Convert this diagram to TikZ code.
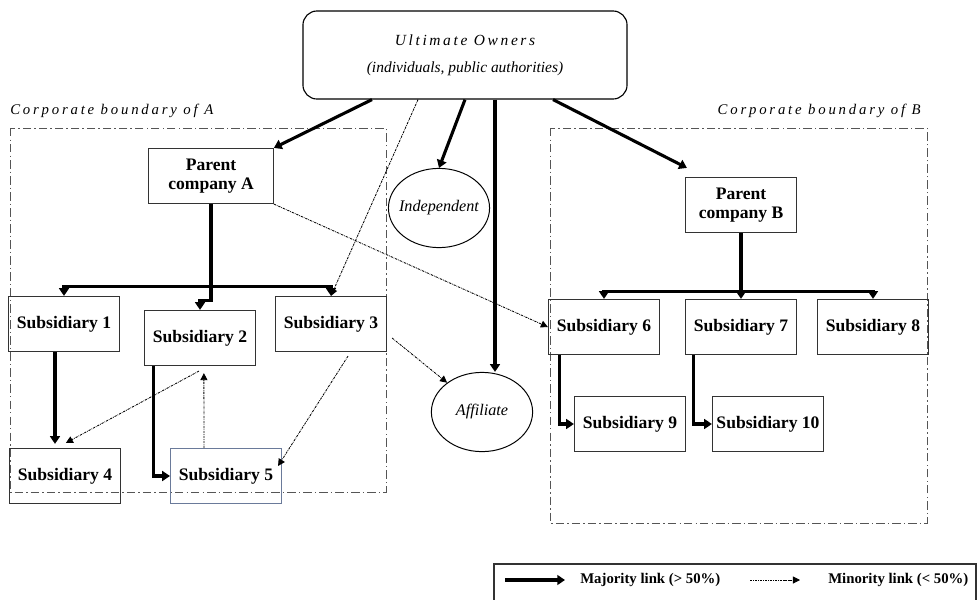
\documentclass[tikz,border=0pt]{standalone}
\usepackage{fontspec}
\setmainfont{Liberation Serif}
\usetikzlibrary{arrows.meta,calc,shapes.geometric}
\definecolor{boxline}{HTML}{333333}
\definecolor{blueline}{HTML}{6A7A9A}
\definecolor{boundline}{HTML}{555555}
\begin{document}
\begin{tikzpicture}
[x=0.025cm,y=-0.025cm,
  boxdecorate/.style={shape=rectangle,draw=boxline,line width=0.7pt,
    minimum width=2.78cm,minimum height=1.38cm,inner sep=1pt,align=center,
    font=\bfseries\fontsize{12.5}{14}\selectfont},
  ovaldecorate/.style={shape=ellipse,draw,line width=0.7pt,
    minimum width=2.45cm,minimum height=1.98cm,inner xsep=-3pt,inner ysep=0pt,
    font=\itshape\fontsize{11.5}{13}\selectfont},
  majority/.style={-{Triangle[length=5.5pt,width=7pt]},line width=2.2pt},
  minority/.style={-{Triangle[length=5pt,width=5pt]},line width=0.6pt,
    dash pattern=on 1.6pt off 0.7pt on 0.5pt off 0.7pt},
  boundary/.style={draw=boundline,line width=0.6pt,
    dash pattern=on 6pt off 2.2pt on 1pt off 2.2pt},
  boundlabel/.style={font=\itshape\fontsize{10.5}{12}\selectfont\addfontfeature{LetterSpace=19},inner sep=0pt},
  legendlabel/.style={font=\bfseries\fontsize{10.5}{12}\selectfont,anchor=west,inner sep=0pt}]
\useasboundingbox (0,0) rectangle (978,599);
%% corporate boundaries
\draw[boundary] (10,128) rectangle (386,492);
\draw[boundary] (550,128) rectangle (927,523);
\node[boundlabel,anchor=south west] (labA) at (10,118) {Corporate boundary of A};
\node[boundlabel,anchor=south east] (labB) at (921,118) {Corporate boundary of B};
%% owners, parents and the two ovals
\node (own) at (465,55) [shape=rectangle,draw,line width=0.8pt,rounded corners=0.35cm,
  minimum width=8.1cm,minimum height=2.2cm,align=center,
  font=\itshape\fontsize{11}{19}\selectfont]
  {{\addfontfeature{LetterSpace=17}Ultimate Owners}\\(individuals, public authorities)};
\node (pA) at (211,176) [boxdecorate,minimum width=3.12cm] {Parent\\company A};
\node (pB) at (741,205) [boxdecorate] {Parent\\company B};
\node (ind) at (439,208) [ovaldecorate] {Independent};
\node (aff) at (482,412) [ovaldecorate,minimum width=2.53cm] {Affiliate};
%% subsidiaries
\foreach \nodename/\num/\x/\y in {s1/1/64/324, s2/2/200/338, s3/3/331/324,
  s4/4/65/476, s6/6/604/327, s7/7/741/327, s8/8/873/327,
  s9/9/630/424, s10/10/768/424} {
  \node (\nodename) at (\x,\y) [boxdecorate] {Subsidiary \num};
}
\node (s5) at (226,476) [boxdecorate,draw=blueline,line width=0.6pt] {Subsidiary 5};
%% links from the owners
\coordinate (oA) at ($(own.south)+(-93,0)$);
\coordinate (oS) at ($(own.south)+(-47,0)$);
\coordinate (oF) at ($(own.south)+(30,0)$);
\coordinate (oB) at ($(own.south)+(88,0)$);
\draw[majority] (oA) -- (pA.north east);
\draw[minority] (oS) -- (s3.north);
\draw[majority] (own.south) -- (ind.north);
\draw[majority] (oF) -- (oF |- aff.north);
\draw[majority] (oB) -- ($(pB.north west)+(2,-9)$);
%% group A
\coordinate (busA) at ($(pA.south)+(0,82)$);
\draw[majority] (pA.south) -- (busA) -| (s1.north);
\draw[majority] (busA) -| (s3.north);
\draw[majority] (pA.south) -- ++(0,96) -| (s2.north);
\draw[majority] ($(s1.south)+(-9,0)$) -- ($(s4.north)+(-10,-4)$);
\draw[majority] ($(s2.south west)+(10,0)$) |- (s5.west);
\draw[minority] ($(s5.north west)+(34,0)$) -- ($(s2.south west)+(60,7)$);
\draw[minority] ($(s2.south west)+(55,5)$) -- ($(s4.north west)+(57,-5)$);
\draw[minority] ($(s3.south)+(17,4)$) -- ($(s5.east)+(-4,-10)$);
\draw[minority] ($(s3.east)+(5,14)$) -- (aff.140);
\draw[minority] (pA.south east) -- (s6.west);
%% group B
\coordinate (busB) at ($(pB.south)+(0,58)$);
\draw[majority] (pB.south) -- (busB) -| (s6.north);
\draw[majority] (busB) -| (s8.north);
\draw[majority] (busB) -- (s7.north);
\draw[majority] ($(s6.south west)+(12,0)$) |- (s9.west);
\draw[majority] ($(s7.south west)+(9,0)$) |- (s10.west);
%% legend
\draw[line width=0.8pt,draw=boxline] (494,603) -- (494,564) -- (976,564) -- (976,603);
\coordinate (lg1) at (505,580);
\coordinate (lg2) at (565,580);
\coordinate (lg3) at (750,580);
\coordinate (lg4) at (800,580);
\draw[majority] (lg1) -- (lg2);
\node[legendlabel] (lgmaj) at (580,580) {Majority link (> 50\%)};
\draw[minority] (lg3) -- (lg4);
\node[legendlabel] (lgmin) at (828,580) {Minority link (< 50\%)};
\end{tikzpicture}
\end{document}
